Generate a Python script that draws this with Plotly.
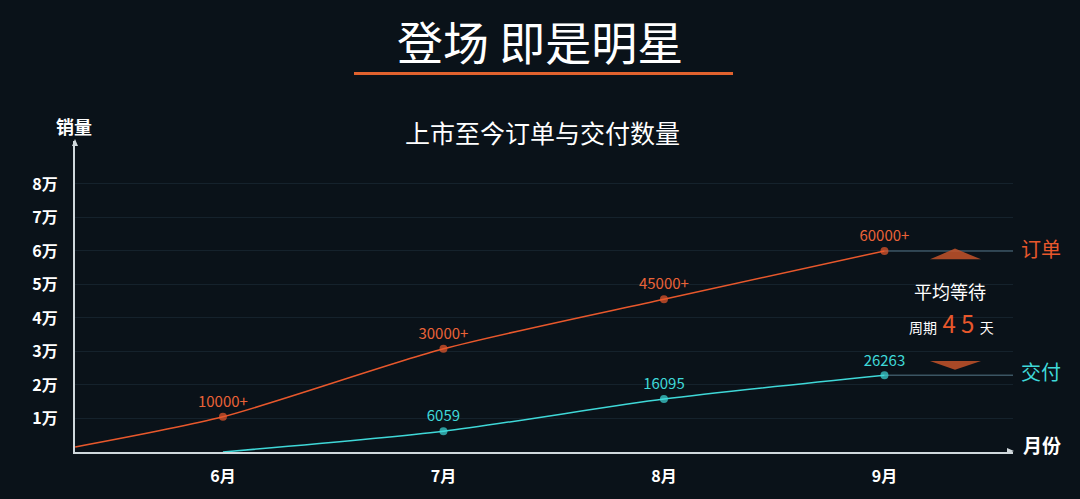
import plotly.graph_objects as go

# data
months = ["6月", "7月", "8月", "9月"]
order_x = [-0.67, 0, 1, 2, 3]
order_vals = [1500, 10500, 30800, 45600, 60000]
order_labels = ["", "10000+", "30000+", "45000+", "60000+"]
delivery_x = [0, 1, 2, 3]
delivery_vals = [0, 6200, 15800, 22900]
delivery_labels = ["", "6059", "16095", "26263"]
y_ticks = [10000, 20000, 30000, 40000, 50000, 60000, 70000, 80000]
y_ticklabels = ["1万", "2万", "3万", "4万", "5万", "6万", "7万", "8万"]

ORANGE = "#e8582c"
CYAN = "#3fd8d8"
BG = "#0a1219"
FONT = "Noto Sans CJK SC"

W, H = 1080, 499
ML, MR, MT, MB = 75, 67, 141, 40


def px(x):
    return (x - ML) / (W - ML - MR)


def py(y):
    return (H - MB - y) / (H - MT - MB)


fig = go.Figure()

# flat continuation lines after september
fig.add_trace(go.Scatter(x=[order_x[-1], 3.6], y=[order_vals[-1]] * 2, mode="lines",
                         line=dict(color="#3b5563", width=1.5), hoverinfo="skip"))
fig.add_trace(go.Scatter(x=[delivery_x[-1], 3.6], y=[delivery_vals[-1]] * 2, mode="lines",
                         line=dict(color="#3b5563", width=1.5), hoverinfo="skip"))

fig.add_trace(go.Scatter(
    x=order_x, y=order_vals, mode="lines+markers+text",
    line=dict(color=ORANGE, width=1.5, shape="spline", smoothing=0.7),
    marker=dict(size=[0, 8, 8, 8, 8], color=ORANGE, line=dict(width=0)),
    text=order_labels, textposition="top center",
    textfont=dict(color="#ea6338", size=15, family=FONT), cliponaxis=False))

fig.add_trace(go.Scatter(
    x=delivery_x, y=delivery_vals, mode="lines+markers+text",
    line=dict(color=CYAN, width=1.5, shape="spline", smoothing=0.7),
    marker=dict(size=[0, 8, 8, 8], color=CYAN, line=dict(width=0)),
    text=delivery_labels, textposition="top center",
    textfont=dict(color=CYAN, size=15, family=FONT), cliponaxis=False))

fig.update_layout(
    width=W, height=H, showlegend=False,
    paper_bgcolor=BG, plot_bgcolor=BG,
    margin=dict(l=ML, r=MR, t=MT, b=MB),
    font=dict(family=FONT, color="white"),
    xaxis=dict(range=[-0.671, 3.583], tickvals=[0, 1, 2, 3], ticktext=months,
               showgrid=False, zeroline=False, showline=True, linecolor="#d0d8dc",
               linewidth=2, ticks="", ticklabelstandoff=9,
               tickfont=dict(size=16, color="white", weight="bold")),
    yaxis=dict(range=[0, 92800], tickvals=y_ticks, ticktext=y_ticklabels,
               showgrid=True, gridcolor="#15222c", gridwidth=1, zeroline=False,
               showline=True, linecolor="#d0d8dc", linewidth=2, ticks="",
               ticklabelstandoff=12,
               tickfont=dict(size=16, color="white", weight="bold")),
)

ann = [
    dict(x=px(540), y=py(38), text="登场 即是明星", font=dict(size=46, color="white")),
    dict(x=px(542), y=py(132), text="上市至今订单与交付数量", font=dict(size=25, color="white")),
    dict(x=px(74), y=py(126), text="<b>销量</b>", font=dict(size=18, color="white")),
    dict(x=px(1042), y=py(451), text="<b>月份</b>", font=dict(size=19, color="white")),
    dict(x=px(1041), y=py(251), text="订单", font=dict(size=20, color=ORANGE)),
    dict(x=px(1041), y=py(377), text="交付", font=dict(size=20, color=CYAN)),
    dict(x=px(950), y=py(294), text="平均等待", font=dict(size=18, color="white")),
    dict(x=px(951), y=py(327),
         text="周期<span style='font-size:24px;color:%s'> 4 5 </span>天" % ORANGE,
         font=dict(size=14, color="white")),
]
for a in ann:
    a.update(xref="paper", yref="paper", showarrow=False, xanchor="center", yanchor="middle")
fig.update_layout(annotations=ann)

shapes = [
    # title underline
    dict(type="line", x0=px(354), x1=px(733), y0=py(72), y1=py(72),
         line=dict(color="#e0622e", width=3)),
    # axis arrows
    dict(type="path", path="M %f %f L %f %f L %f %f Z" % (px(72), py(146), px(75), py(139), px(78), py(146)),
         fillcolor="#d0d8dc", line=dict(width=0)),
    dict(type="path", path="M %f %f L %f %f L %f %f Z" % (px(1007), py(455), px(1014), py(458), px(1007), py(461)),
         fillcolor="#d0d8dc", line=dict(width=0)),
    # wait-time triangles
    dict(type="path", path="M %f %f L %f %f L %f %f Z" % (px(930), py(262), px(955), py(251), px(981), py(262)),
         fillcolor="#c4532a", line=dict(width=0), opacity=0.85),
    dict(type="path", path="M %f %f L %f %f L %f %f Z" % (px(930), py(366), px(955), py(375), px(981), py(366)),
         fillcolor="#c4532a", line=dict(width=0), opacity=0.85),
]
for s in shapes:
    s.update(xref="paper", yref="paper")
fig.update_layout(shapes=shapes)

fig.write_html("out.html", config={"displayModeBar": False},
               post_script="document.body.style.margin='0';")
